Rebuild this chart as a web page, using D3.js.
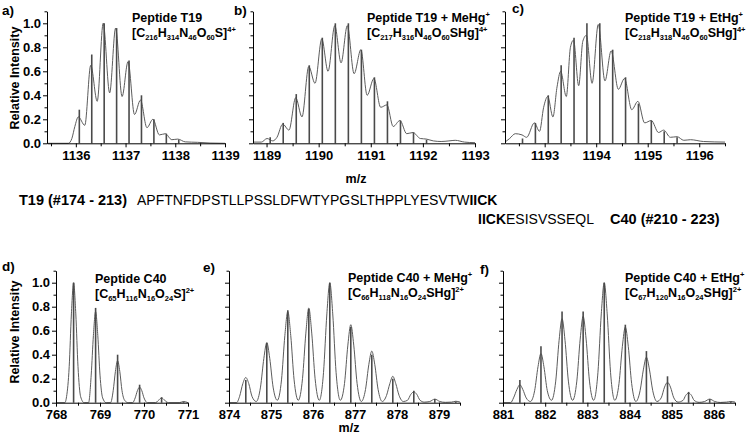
<!DOCTYPE html>
<html><head><meta charset="utf-8">
<script src="https://cdn.jsdelivr.net/npm/d3@7"></script>
<style>body{margin:0;background:#fff}svg{display:block}</style>
</head><body>
<svg id="chart" width="747" height="436"></svg>
<script>
// ---------------- data ----------------
const panelIds = ["a)", "b)", "c)", "d)", "e)", "f)"];
const titles = ["Peptide T19", "Peptide T19 + MeHg^{+}", "Peptide T19 + EtHg^{+}",
                "Peptide C40", "Peptide C40 + MeHg^{+}", "Peptide C40 + EtHg^{+}"];
const formulas = ["[C_{216}H_{314}N_{46}O_{60}S]^{4+}", "[C_{217}H_{316}N_{46}O_{60}SHg]^{4+}",
                  "[C_{218}H_{318}N_{46}O_{60}SHg]^{4+}", "[C_{65}H_{116}N_{16}O_{24}S]^{2+}",
                  "[C_{66}H_{118}N_{16}O_{24}SHg]^{2+}", "[C_{67}H_{120}N_{16}O_{24}SHg]^{2+}"];
const xDomains = [[1135.42, 1139], [1188.74, 1193], [1192.23, 1196.5], [768, 771], [874, 879.5], [881, 886.5]];
const xTicksA = [1136, 1137, 1138, 1139];
const xTicksB = [1189, 1190, 1191, 1192, 1193];
const xTicksC = [1193, 1194, 1195, 1196];
const xTicksD = [768, 769, 770, 771];
const xTicksE = [874, 875, 876, 877, 878, 879];
const xTicksF = [881, 882, 883, 884, 885, 886];
const yDomain = [0, 1.1];
const yTicks = [0, 0.2, 0.4, 0.6, 0.8, 1.0];
const yLabel = "Relative Intensity";
const xLabel = "m/z";

// measured profiles [m/z, relative intensity]
const profileA = [[1135.42,0],[1135.85,0],[1135.92,0.04],[1135.98,0.14],[1136.05,0.22],[1136.18,0.15],[1136.3,0.65],[1136.43,0.35],[1136.55,1.0],[1136.68,0.42],[1136.8,0.96],[1136.93,0.39],[1137.05,0.68],[1137.18,0.24],[1137.3,0.36],[1137.43,0.13],[1137.55,0.2],[1137.68,0.07],[1137.8,0.08],[1137.93,0.03],[1138.05,0.035],[1138.2,0.012],[1138.45,0.008],[1138.7,0.002],[1139,0]];
const sticksA = [[1136.07,0.28],[1136.32,0.74],[1136.57,1.0],[1136.82,0.96],[1137.07,0.69],[1137.32,0.40],[1137.57,0.20],[1137.82,0.08],[1138.07,0.03]];

const profileB = [[1188.74,0.01],[1188.9,0.01],[1189.01,0.04],[1189.12,0.02],[1189.2,0.05],[1189.31,0.16],[1189.43,0.11],[1189.56,0.38],[1189.68,0.22],[1189.81,0.64],[1189.93,0.5],[1190.06,0.87],[1190.18,0.6],[1190.31,0.98],[1190.43,0.67],[1190.55,0.98],[1190.68,0.58],[1190.81,0.78],[1190.93,0.4],[1191.06,0.54],[1191.19,0.3],[1191.31,0.32],[1191.43,0.14],[1191.56,0.19],[1191.69,0.08],[1191.81,0.09],[1191.95,0.04],[1192.07,0.035],[1192.2,0.02],[1192.35,0.015],[1192.5,0.02],[1192.62,0.025],[1192.8,0.01],[1193,0.005]];
const sticksB = [[1189.07,0.05],[1189.32,0.17],[1189.57,0.41],[1189.82,0.65],[1190.07,0.88],[1190.32,1.0],[1190.57,1.0],[1190.82,0.78],[1191.07,0.55],[1191.32,0.35],[1191.57,0.19],[1191.82,0.09],[1192.07,0.03]];

const profileC = [[1192.23,0.01],[1192.32,0.04],[1192.43,0.08],[1192.56,0.07],[1192.65,0.05],[1192.8,0.17],[1192.9,0.1],[1192.98,0.3],[1193.06,0.39],[1193.16,0.22],[1193.24,0.47],[1193.31,0.6],[1193.42,0.39],[1193.5,0.8],[1193.56,0.86],[1193.66,0.48],[1193.74,0.85],[1193.81,0.9],[1193.92,0.5],[1194.04,0.99],[1194.17,0.52],[1194.29,0.77],[1194.43,0.45],[1194.55,0.54],[1194.69,0.28],[1194.81,0.35],[1194.94,0.17],[1195.07,0.19],[1195.21,0.09],[1195.31,0.11],[1195.44,0.05],[1195.57,0.055],[1195.7,0.025],[1195.83,0.03],[1196.08,0.015],[1196.5,0.01]];
const sticksC = [[1192.57,0.04],[1192.82,0.17],[1193.07,0.40],[1193.32,0.65],[1193.57,0.88],[1193.82,1.0],[1194.07,1.0],[1194.32,0.78],[1194.57,0.55],[1194.82,0.33],[1195.07,0.19],[1195.32,0.1],[1195.57,0.05]];

const profileD = [[768.0,0],[768.2,0],[768.24,0.05],[768.3,0.3],[768.35,0.74],[768.4,1.0],[768.45,0.74],[768.5,0.3],[768.56,0.05],[768.64,0],
  [768.74,0],[768.8,0.23],[768.85,0.56],[768.9,0.76],[768.95,0.56],[769.0,0.23],[769.06,0.04],[769.14,0],
  [769.24,0],[769.3,0.1],[769.35,0.26],[769.4,0.35],[769.45,0.26],[769.5,0.1],[769.56,0.02],[769.64,0],
  [769.74,0],[769.8,0.04],[769.85,0.1],[769.9,0.13],[769.95,0.1],[770.0,0.04],[770.08,0],
  [770.26,0],[770.33,0.02],[770.4,0.04],[770.47,0.02],[770.56,0],
  [770.8,0],[770.9,0.01],[771.0,0]];
const sticksD = [[768.4,1.0],[768.9,0.79],[769.4,0.40],[769.9,0.15],[770.4,0.045],[770.9,0.01]];

const profileE = [[874.0,0],[874.18,0],[874.25,0.05],[874.33,0.16],[874.4,0.21],[874.47,0.16],[874.55,0.05],[874.65,0.01],
  [874.75,0.13],[874.83,0.37],[874.9,0.5],[874.97,0.37],[875.05,0.13],[875.15,0.02],
  [875.25,0.19],[875.33,0.56],[875.4,0.76],[875.47,0.56],[875.55,0.19],[875.65,0.02],
  [875.75,0.2],[875.83,0.58],[875.9,0.79],[875.97,0.58],[876.05,0.2],[876.15,0.02],
  [876.25,0.25],[876.33,0.74],[876.4,1.0],[876.47,0.74],[876.55,0.25],[876.65,0.02],
  [876.75,0.16],[876.83,0.48],[876.9,0.65],[876.97,0.48],[877.05,0.16],[877.15,0.01],
  [877.25,0.11],[877.33,0.32],[877.4,0.43],[877.47,0.32],[877.55,0.11],[877.65,0.01],
  [877.75,0.06],[877.83,0.16],[877.9,0.22],[877.97,0.16],[878.05,0.06],[878.15,0.01],
  [878.25,0.02],[878.33,0.07],[878.4,0.09],[878.47,0.07],[878.55,0.02],[878.65,0.005],
  [878.78,0.01],[878.9,0.03],[879.02,0.01],[879.15,0.003],
  [879.3,0.005],[879.4,0.012],[879.5,0.005]];
const sticksE = [[874.4,0.19],[874.9,0.5],[875.4,0.77],[875.9,0.78],[876.4,1.0],[876.9,0.63],[877.4,0.4],[877.9,0.2],[878.4,0.1],[878.9,0.03],[879.4,0.01]];

const profileF = [[881.0,0],[881.18,0],[881.25,0.04],[881.33,0.11],[881.4,0.15],[881.47,0.11],[881.55,0.04],[881.65,0.01],
  [881.75,0.1],[881.83,0.3],[881.9,0.41],[881.97,0.3],[882.05,0.1],[882.15,0.02],
  [882.25,0.18],[882.33,0.52],[882.4,0.70],[882.47,0.52],[882.55,0.18],[882.65,0.02],
  [882.75,0.18],[882.83,0.53],[882.9,0.72],[882.97,0.53],[883.05,0.18],[883.15,0.02],
  [883.25,0.25],[883.33,0.74],[883.4,1.0],[883.47,0.74],[883.55,0.25],[883.65,0.02],
  [883.75,0.16],[883.83,0.47],[883.9,0.63],[883.97,0.47],[884.05,0.16],[884.15,0.01],
  [884.25,0.1],[884.33,0.28],[884.4,0.38],[884.47,0.28],[884.55,0.1],[884.65,0.01],
  [884.75,0.04],[884.83,0.13],[884.9,0.17],[884.97,0.13],[885.05,0.04],[885.15,0.005],
  [885.27,0.02],[885.33,0.06],[885.4,0.08],[885.47,0.06],[885.53,0.02],[885.65,0.003],
  [885.78,0.01],[885.9,0.03],[886.02,0.01],[886.15,0.002],
  [886.3,0.005],[886.4,0.01],[886.5,0.005]];
const sticksF = [[881.4,0.19],[881.9,0.47],[882.4,0.76],[882.9,0.76],[883.4,1.0],[883.9,0.65],[884.4,0.43],[884.9,0.22],[885.4,0.09],[885.9,0.03],[886.4,0.01]];

// sequence annotation
const seqT19Label = "T19 (#174 - 213)";
const seqT19 = "APFTNFDPSTLLPSSLDFWTYPGSLTHPPLYESVTW";
const seqOverlap = "IICK";
const seqC40 = "ESISVSSEQL";
const seqC40Label = "C40 (#210 - 223)";

// ---------------- layout (positions / styles) ----------------
const FONT = "'Liberation Sans', Arial, Helvetica, sans-serif";
const panels = [
  {x0: 47,  x1: 225, y0: 143.3, y1: 11.3, id: [2, 15],   title: [132, 22], prof: profileA, st: sticksA, ticks: xTicksA, ylab: true},
  {x0: 253, x1: 475, y0: 143.3, y1: 11.3, id: [234, 15], title: [367, 22], prof: profileB, st: sticksB, ticks: xTicksB},
  {x0: 505, x1: 725, y0: 143.3, y1: 11.3, id: [512, 13], title: [625, 22], prof: profileC, st: sticksC, ticks: xTicksC},
  {x0: 56,  x1: 188, y0: 402.7, y1: 270.7, id: [2, 271],  title: [95, 283], prof: profileD, st: sticksD, ticks: xTicksD, ylab: true},
  {x0: 229, x1: 460, y0: 402.7, y1: 270.7, id: [203, 272], title: [348, 282], prof: profileE, st: sticksE, ticks: xTicksE},
  {x0: 503, x1: 735, y0: 402.7, y1: 270.7, id: [480, 274], title: [625, 282], prof: profileF, st: sticksF, ticks: xTicksF}
];

const svg = d3.select("#chart").style("font-family", FONT);

function richText(g, str, x, y, size, subSize) {
  const t = g.append("text").attr("x", x).attr("y", y)
    .attr("font-size", size).attr("font-weight", "bold").attr("fill", "#000");
  const re = /(_|\^)\{([^}]*)\}|([^_^]+)/g;
  let m, shift = 0;
  while ((m = re.exec(str)) !== null) {
    let target = 0, txt, fs = size;
    if (m[1] === "_") { target = 3; txt = m[2]; fs = subSize; }
    else if (m[1] === "^") { target = -5; txt = m[2]; fs = subSize; }
    else { txt = m[3]; }
    t.append("tspan").attr("dy", target - shift).attr("font-size", fs).text(txt);
    shift = target;
  }
  return t;
}

panels.forEach((p, i) => {
  const x = d3.scaleLinear().domain(xDomains[i]).range([p.x0, p.x1]);
  const y = d3.scaleLinear().domain(yDomain).range([p.y0, p.y1]);
  const g = svg.append("g");

  // profile curve
  g.append("path").datum(p.prof)
    .attr("fill", "none").attr("stroke", "#5c5c5c").attr("stroke-width", 1)
    .attr("d", d3.line().x(d => x(d[0])).y(d => y(d[1])).curve(d3.curveMonotoneX));

  // sticks
  g.selectAll("line.stick").data(p.st).join("line").attr("class", "stick")
    .attr("x1", d => x(d[0])).attr("x2", d => x(d[0]))
    .attr("y1", y(0)).attr("y2", d => y(d[1]))
    .attr("stroke", "#4a4a4a").attr("stroke-width", 1.6);

  // x axis
  const xMinor = d3.range(Math.ceil(xDomains[i][0] * 2) / 2, xDomains[i][1] + 1e-9, 0.5)
    .filter(v => Math.abs(v - Math.round(v)) > 1e-6);
  g.append("g").attr("transform", `translate(0,${p.y0})`)
    .call(d3.axisBottom(x).tickValues(p.ticks).tickFormat(d3.format("d")).tickSize(4).tickSizeOuter(0).tickPadding(3));
  g.append("g").attr("transform", `translate(0,${p.y0})`)
    .call(d3.axisBottom(x).tickValues(xMinor).tickFormat("").tickSize(3).tickSizeOuter(0))
    .select(".domain").remove();

  // y axis
  g.append("g").attr("transform", `translate(${p.x0},0)`)
    .call(d3.axisLeft(y).tickValues(yTicks).tickFormat(p.ylab ? d3.format(".1f") : "").tickSize(4).tickSizeOuter(0).tickPadding(2));
  g.append("g").attr("transform", `translate(${p.x0},0)`)
    .call(d3.axisLeft(y).tickValues([0.1, 0.3, 0.5, 0.7, 0.9, 1.1]).tickFormat("").tickSize(2.5).tickSizeOuter(0))
    .select(".domain").remove();

  g.selectAll(".tick text").attr("font-size", 13).attr("font-weight", "bold")
    .attr("font-family", FONT).attr("fill", "#000");
  g.selectAll(".domain, .tick line").attr("stroke", "#000").attr("stroke-width", 1);

  // panel id
  g.append("text").attr("x", p.id[0]).attr("y", p.id[1]).attr("font-size", 13.5)
    .attr("font-weight", "bold").text(panelIds[i]);

  // titles
  richText(g, titles[i], p.title[0], p.title[1], 12.5, 7.5);
  richText(g, formulas[i], p.title[0], p.title[1] + 15, 12.5, 7.5);
});

// axis titles
[[14, 78], [14, 332]].forEach(([cx, cy]) => {
  svg.append("text").attr("transform", `translate(${cx + 5},${cy}) rotate(-90)`)
    .attr("text-anchor", "middle").attr("font-size", 12.5).attr("font-weight", "bold").text(yLabel);
});
[[356, 183], [349, 432]].forEach(([cx, cy]) => {
  svg.append("text").attr("x", cx).attr("y", cy).attr("text-anchor", "middle")
    .attr("font-size", 12.5).attr("font-weight", "bold").text(xLabel);
});

// sequence lines
const l1 = svg.append("text").attr("y", 205).attr("font-size", 14);
l1.append("tspan").attr("x", 19).attr("font-weight", "bold").attr("font-size", 14.5).text(seqT19Label);
l1.append("tspan").attr("x", 137).text(seqT19);
l1.append("tspan").attr("font-weight", "bold").text(seqOverlap);

const l2 = svg.append("text").attr("y", 224).attr("font-size", 14);
l2.append("tspan").attr("x", 478).attr("font-weight", "bold").text(seqOverlap);
l2.append("tspan").text(seqC40);
l2.append("tspan").attr("x", 610).attr("font-weight", "bold").attr("font-size", 14.5).text(seqC40Label);
</script>
</body></html>
